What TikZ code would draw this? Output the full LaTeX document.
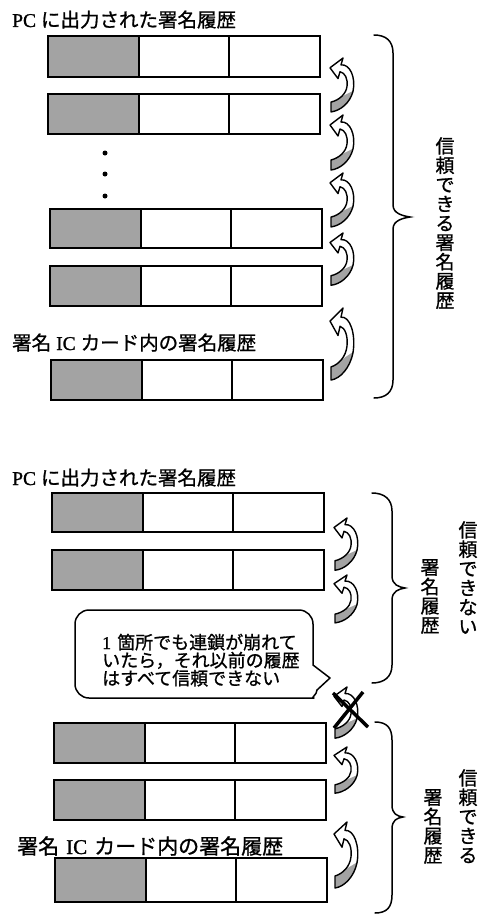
\documentclass[tikz,border=0pt]{standalone}
\usepackage{fontspec}
\setmainfont{Liberation Serif}[FakeBold=1.2]
\newfontfamily\jp{Noto Sans CJK JP}[FakeBold=1.0]
\definecolor{shadegray}{gray}{0.64}
\newcommand{\curlP}{(11,7) .. controls (20,6) and (26,20) .. (23,34) .. controls (20,46) and (10,54) .. (1,55) -- (1,45) .. controls (9,43) and (16,37) .. (17,29) .. controls (18,21) and (15,15) .. (10,14) -- (8,21) -- (0,10) -- (13,0) -- cycle}
\newcommand{\recrow}[4]{%
  \node[cell, fill=shadegray, minimum width=91pt, minimum height=#4pt] (#1a) at (#2,#3) {};
  \node[cell, minimum width=90pt, minimum height=#4pt] (#1b) at (#1a.north east) {};
  \node[cell, minimum width=91pt, minimum height=#4pt] (#1c) at (#1b.north east) {};
}
\newcommand{\cbrace}[6]{%
  \draw[brc] (#1,#4) .. controls ({#1+12},#4) and (#2,{#4+6}) .. (#2,{#4+18}) -- (#2,{#5-12}) .. controls (#2,{#5-3}) and ({#3-6},{#5-1}) .. (#3,#5) .. controls ({#3-6},{#5+1}) and (#2,{#5+3}) .. (#2,{#5+12}) -- (#2,{#6-18}) .. controls (#2,{#6-6}) and ({#1+12},#6) .. (#1,#6);
}
\begin{document}
\begin{tikzpicture}[x=1pt,y=-1pt,
  cell/.style={draw, line width=1.6pt, inner sep=0pt, outer sep=0pt, anchor=north west},
  lbl/.style={inner sep=0pt, anchor=base west},
  vcol/.style={inner sep=0pt, anchor=north, align=center, font={\jp\fontsize{19}{19.3}\selectfont}},
  ctext/.style={inner sep=0pt, anchor=base west, font={\jp\fontsize{18}{18}\selectfont}},
  dot/.style={circle, fill=black, inner sep=0pt, minimum size=5pt},
  brc/.style={line width=1.5pt, line cap=round},
  curl/.pic={
    \fill[white] \curlP;
    \begin{scope}
      \clip \curlP;
      \fill[shadegray] (-5,48) -- (30,30) -- (30,70) -- (-5,70) -- cycle;
    \end{scope}
    \draw[line width=1.4pt, line join=round] \curlP;
  }
  ]
\useasboundingbox[fill=white] (0,0) rectangle (480,918);

% ---------- upper diagram ----------
\node[lbl] (t1) at (12,27) {\fontsize{19.5}{20}\selectfont PC\hspace{5pt}{\jp に出力された署名履歴}};
\recrow{ra}{48}{36}{41}
\recrow{rb}{48}{94}{40}
\node[dot] (d1) at (105,153) {};
\node[dot] (d2) at (105,174) {};
\node[dot] (d3) at (105,196) {};
\recrow{rc}{50}{209}{39}
\recrow{rd}{50}{266}{40}
\node[lbl] (t2) at (12,350) {\fontsize{19.5}{20}\selectfont{\jp 署名}\hspace{5pt}IC\hspace{5pt}{\jp カード内の署名履歴}};
\recrow{re}{51}{360}{40}

\pic[yscale=0.98] at (330,58) {curl};
\pic[yscale=1.0] at (330,115) {curl};
\pic[yscale=0.98] at (330,173) {curl};
\pic[yscale=0.95] at (330,233) {curl};
\pic[yscale=1.31] at (330,308) {curl};

\cbrace{374}{393}{410}{35}{217}{398}
\node[vcol] (v1) at (445,137) {信\\頼\\で\\き\\る\\署\\名\\履\\歴};

% ---------- lower diagram ----------
\node[lbl] (t3) at (12,485) {\fontsize{19.5}{20}\selectfont PC\hspace{5pt}{\jp に出力された署名履歴}};
\recrow{sa}{52}{493}{39}
\recrow{sb}{52}{550}{40}

\draw[line width=1.5pt, line join=round] (313,650) [rounded corners=14pt] -- (313,610) -- (75,610) -- (75,698) -- (300,698) [sharp corners] .. controls (310,698) and (317,695) .. (317,690) -- (330,678) -- (313,665) -- cycle;
\node[ctext] (c1) at (102,649) {{\rmfamily 1}\hspace{6pt}箇所でも連鎖が崩れて};
\node[ctext] (c2) at (102,667) {いたら，それ以前の履歴};
\node[ctext] (c3) at (102,685) {はすべて信頼できない};

\recrow{sc}{54}{723}{40}
\recrow{sd}{54}{780}{40}
\node[lbl] (t4) at (17,854) {\fontsize{21}{22}\selectfont{\jp 署名}\hspace{7pt}IC\hspace{7pt}{\jp カード内の署名履歴}};
\recrow{se}{55}{858}{44}

\pic[yscale=0.95] at (334,518) {curl};
\pic[yscale=0.87] at (334,575) {curl};
\pic[yscale=0.93] at (334,687) {curl};
\pic[yscale=0.84] at (334,747) {curl};
\pic[yscale=1.2] at (334,822) {curl};

\coordinate (xa) at (333,693);
\coordinate (xb) at (368,727);
\coordinate (xc) at (363,692);
\coordinate (xd) at (334,728);
\draw[line width=3.5pt] (xa) -- (xb);
\draw[line width=3.5pt] (xc) -- (xd);

\cbrace{372}{392}{405}{493}{588}{683}
\cbrace{375}{392}{403}{722}{817}{913}

\node[vcol] (v2) at (468,521) {信\\頼\\で\\き\\な\\い};
\node[vcol] (v3) at (430,559) {署\\名\\履\\歴};
\node[vcol] (v4) at (468,769) {信\\頼\\で\\き\\る};
\node[vcol] (v5) at (433,789) {署\\名\\履\\歴};
\end{tikzpicture}
\end{document}
